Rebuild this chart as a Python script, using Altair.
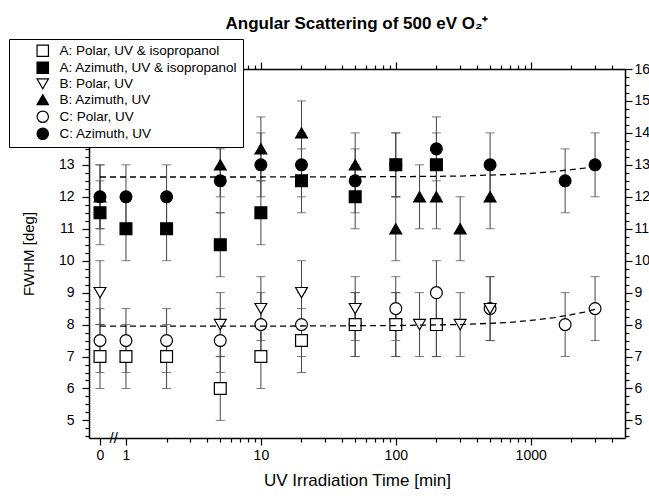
import altair as alt
import pandas as pd

# ---------------- data ----------------
times_A = [0, 1, 2, 5, 10, 20, 50, 100, 200]
a_polar = [7, 7, 7, 6, 7, 7.5, 8, 8, 8]
a_azim = [11.5, 11, 11, 10.5, 11.5, 12.5, 12, 13, 13]

times_B = [0, 5, 10, 20, 50, 100, 150, 200, 300, 500]
b_polar = [9, 8, 8.5, 9, 8.5, 8, 8, 8, 8, 8.5]
b_azim = [12, 13, 13.5, 14, 13, 11, 12, 12, 11, 12]

times_C = [0, 1, 2, 5, 10, 20, 50, 100, 200, 500, 1800, 3000]
c_polar = [7.5, 7.5, 7.5, 7.5, 8, 8, 8, 8.5, 9, 8.5, 8, 8.5]
c_azim = [12, 12, 12, 12.5, 13, 13, 12.5, 13, 13.5, 13, 12.5, 13]

err_A = [1, 1, 1, 1, 1, 1, 1, 1, 1]
err_B = [1, 1, 1, 1, 1, 1, 1, 1, 1, 1]
err_C = [1, 1, 1, 1, 1, 1, 1, 1, 1, 1, 1, 1]

fit_times = [0, 1, 10, 100, 200, 300, 500, 700, 1000, 1500, 2000, 2500, 3000]
fit_azim = [12.62, 12.62, 12.62, 12.63, 12.64, 12.65, 12.68, 12.70, 12.73, 12.79, 12.85, 12.90, 12.96]
fit_polar = [7.95, 7.95, 7.95, 7.97, 7.99, 8.00, 8.04, 8.07, 8.13, 8.22, 8.31, 8.39, 8.48]

series_names = [
    "A: Polar, UV & isopropanol",
    "A: Azimuth, UV & isopropanol",
    "B: Polar, UV",
    "B: Azimuth, UV",
    "C: Polar, UV",
    "C: Azimuth, UV",
]
series_shapes = ["square", "square", "triangle-down", "triangle-up", "circle", "circle"]
series_fills = ["white", "black", "white", "black", "white", "black"]

x_major = [1, 10, 100, 1000]
x_minor = [2, 3, 4, 5, 6, 7, 8, 9, 20, 30, 40, 50, 60, 70, 80, 90,
           200, 300, 400, 500, 600, 700, 800, 900, 2000, 3000, 4000]
y_ticks = [4.5 + 0.25 * i for i in range(47)]

ZERO_POS = 0.642  # where "0" sits on the broken log axis
X_DOMAIN = [0.532, 5000]
Y_DOMAIN = [4.45, 16]

# ---------------- tables ----------------
def xpos(t):
    return ZERO_POS if t == 0 else t

rows = []
for name, times, vals, errs in [
    (series_names[5], times_C, c_azim, err_C),
    (series_names[4], times_C, c_polar, err_C),
    (series_names[3], times_B, b_azim, err_B),
    (series_names[2], times_B, b_polar, err_B),
    (series_names[1], times_A, a_azim, err_A),
    (series_names[0], times_A, a_polar, err_A),
]:
    for t, v, e in zip(times, vals, errs):
        rows.append({"series": name, "xp": xpos(t), "y": v, "lo": v - e, "hi": v + e})
df = pd.DataFrame(rows)

fit_rows = []
for name, vals in [("azim", fit_azim), ("polar", fit_polar)]:
    for t, v in zip(fit_times, vals):
        fit_rows.append({"fit": name, "xp": xpos(t), "y": v})
fit_df = pd.DataFrame(fit_rows)

brk_df = pd.DataFrame({"xp": [0.81], "y": [Y_DOMAIN[0]], "t": ["//"]})

# ---------------- axes ----------------
xscale = alt.Scale(type="log", domain=X_DOMAIN, nice=False)
yscale = alt.Scale(domain=Y_DOMAIN, nice=False, zero=False)
x_vals = [ZERO_POS] + x_major + x_minor
x_major_test = "datum.value < 0.9 || indexof([1,10,100,1000], datum.value) >= 0"
x_tick = {"condition": {"test": x_major_test, "value": 7}, "value": 4}
y_tick = {"condition": {"test": "datum.value % 1 == 0", "value": 7}, "value": 4}
y_label_expr = "datum.value % 1 == 0 ? format(datum.value, 'd') : ''"

common = dict(grid=False, domainColor="black", domainWidth=1.5, tickColor="black",
              tickWidth=1.2, labelColor="black", labelFontSize=14,
              labelFont="Liberation Sans", labelOverlap=False, labelFlush=False)

x_bottom = alt.Axis(values=x_vals, tickSize=x_tick,
                    labelExpr="datum.value < 0.9 ? '0' : (indexof([1,10,100,1000], datum.value) >= 0 ? format(datum.value, 'd') : '')",
                    title="UV Irradiation Time [min]", titleFontSize=17, titleFontWeight="normal",
                    titleColor="black", titleFont="Liberation Sans", titlePadding=10, labelPadding=3,
                    **common)
x_top = alt.Axis(orient="top", values=x_vals, tickSize=x_tick, labels=False, title="", **common)
y_left = alt.Axis(values=y_ticks, tickSize=y_tick, labelExpr=y_label_expr,
                  title="FWHM [deg]", titleFontSize=15, titleFontWeight="normal",
                  titleColor="black", titleFont="Liberation Sans", titlePadding=22, labelPadding=8,
                  **common)
y_right = alt.Axis(orient="right", values=y_ticks, tickSize=y_tick, labelExpr=y_label_expr,
                   title="", labelPadding=2, **common)

# ---------------- layers ----------------
fit = alt.Chart(fit_df).mark_line(color="black", strokeDash=[6, 4], strokeWidth=1.3).encode(
    x=alt.X("xp:Q", scale=xscale, axis=x_bottom),
    y=alt.Y("y:Q", scale=yscale, axis=y_left),
    detail="fit:N",
)

bars = alt.Chart(df).mark_rule(color="#444444", strokeWidth=1).encode(
    x=alt.X("xp:Q", scale=xscale, axis=x_top),
    y=alt.Y("lo:Q", scale=yscale, axis=y_right),
    y2="hi:Q",
)

caps = alt.Chart(df).transform_fold(["lo", "hi"], as_=["end", "val"]).mark_tick(
    color="#444444", thickness=1, size=9, orient="horizontal"
).encode(
    x=alt.X("xp:Q", scale=xscale, axis=None),
    y=alt.Y("val:Q", scale=yscale, axis=None),
)

points = alt.Chart(df).mark_point(filled=True, stroke="black", strokeWidth=1.2,
                                  opacity=1, size=140).encode(
    x=alt.X("xp:Q", scale=xscale, axis=None),
    y=alt.Y("y:Q", scale=yscale, axis=None),
    fill=alt.Fill("series:N", scale=alt.Scale(domain=series_names, range=series_fills),
                  title=None,
                  legend=alt.Legend(orient="none", legendX=-80, legendY=-30,
                                    fillColor="white", strokeColor="black",
                                    padding=5, rowPadding=0, symbolOffset=22,
                                    labelOffset=10, labelFontSize=13.5,
                                    labelFont="Liberation Sans", labelColor="black",
                                    symbolSize=130, symbolStrokeColor="black",
                                    symbolStrokeWidth=1.2, labelLimit=300)),
    shape=alt.Shape("series:N", scale=alt.Scale(domain=series_names, range=series_shapes),
                    title=None),
)

brk = alt.Chart(brk_df).mark_text(fontSize=15, color="black", baseline="middle",
                                  align="center", font="Liberation Sans").encode(
    x=alt.X("xp:Q", scale=xscale, axis=None),
    y=alt.Y("y:Q", scale=yscale, axis=None),
    text="t:N",
)

chart = alt.layer(bars, caps, points, fit, brk).resolve_axis(
    x="independent", y="independent"
).properties(
    width=536,
    height=369,
    padding={"left": 89, "top": 69, "right": 24, "bottom": 58},
    autosize=alt.AutoSizeParams(type="none"),
    title=alt.TitleParams("Angular Scattering of 500 eV O₂⁺", fontSize=17,
                          fontWeight="bold", anchor="middle", offset=6,
                          font="Liberation Sans", color="black"),
).configure_view(stroke="black", strokeWidth=1.5).configure(background="white")

chart.save("out.html", embed_options={"renderer": "svg", "actions": False})
